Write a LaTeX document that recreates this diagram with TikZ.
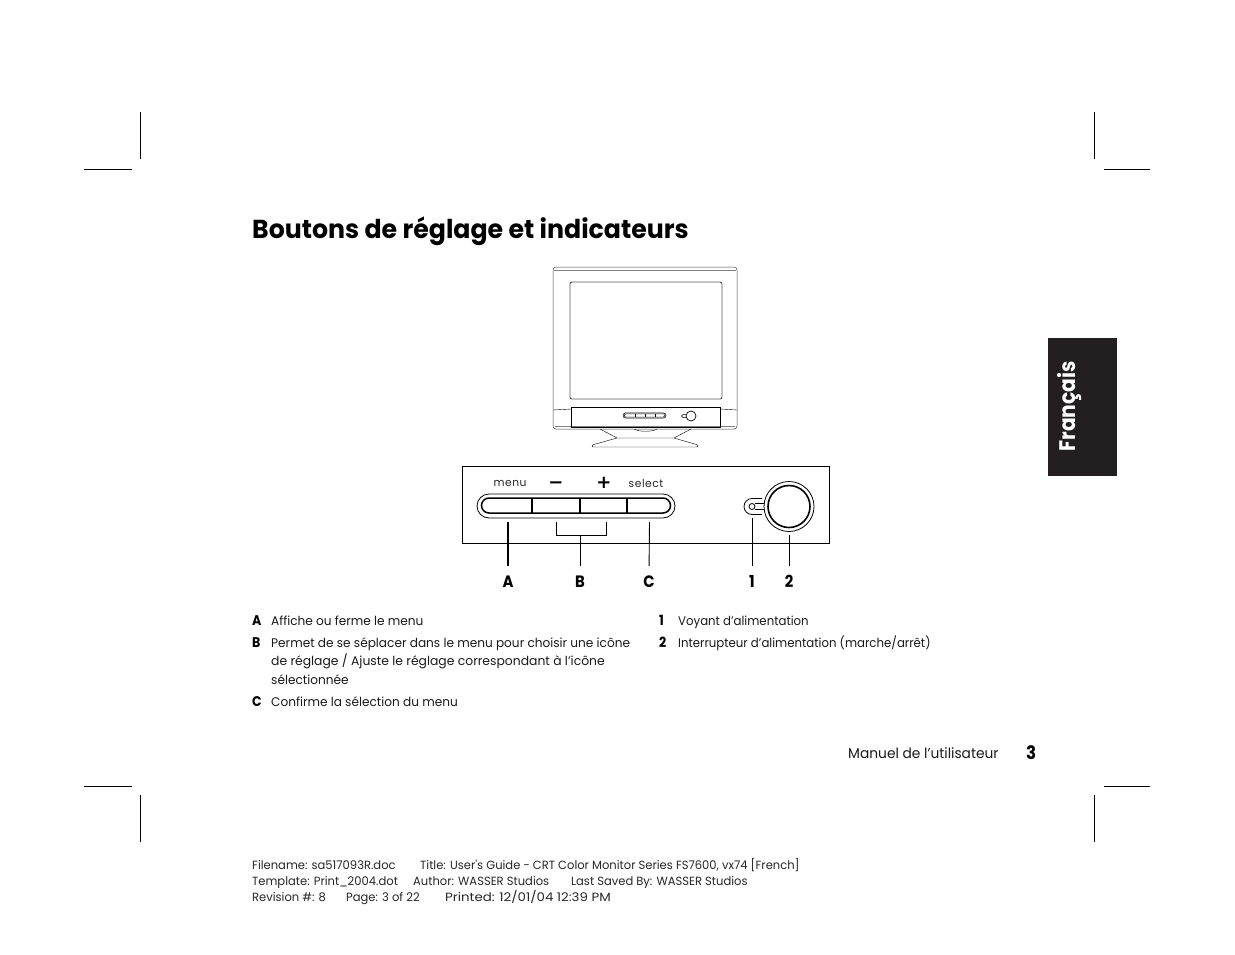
\documentclass[tikz,border=0pt]{standalone}
\usepackage{fontspec}
\setmainfont{Poppins}
\newfontfamily\bodyfont[FakeStretch=0.97]{Poppins}
\newfontfamily\narrowfont[FakeStretch=0.94]{Poppins}
\newfontfamily\widefont[FakeStretch=0.99]{Poppins}
\newfontfamily\printedfont[FakeStretch=1.12]{Poppins}
\newfontfamily\boldfont[FakeStretch=0.9]{Poppins Bold}
\newfontfamily\titlefont[FakeStretch=0.97]{Poppins Bold}
\newfontfamily\panelfont[FakeStretch=0.97,LetterSpace=5]{Poppins}
\newfontfamily\symbfont{DejaVu Sans}
\usetikzlibrary{positioning}
\definecolor{tabblack}{HTML}{231F20}
\tikzset{
  body/.style={anchor=base west,inner sep=0pt,font=\bodyfont\fontsize{12.5}{14}\selectfont,text=black!90},
  letter/.style={anchor=base west,inner sep=0pt,font=\boldfont\fontsize{14}{16}\selectfont},
  callout/.style={anchor=base,inner sep=0pt,font=\boldfont\fontsize{16.5}{18}\selectfont},
  footer/.style={anchor=base west,inner sep=0pt,font=\bodyfont\fontsize{11.9}{14}\selectfont,text=black!85},
  panel/.style={anchor=base,inner sep=0pt,font=\panelfont\fontsize{11}{13}\selectfont,text=black!85},
  sign/.style={anchor=base,inner sep=0pt,font=\symbfont\bfseries\fontsize{18}{20}\selectfont},
  crop/.style={line width=.7pt},
  leader/.style={line width=.9pt,shorten >=9pt},
  barinner/.style={line width=1.5pt},
}
\tikzset{
  buttonbar/.pic={
   \draw[pic actions] (-87,-12) -- (87,-12) arc[start angle=90,end angle=-90,radius=12pt] -- (-87,12) arc[start angle=270,end angle=90,radius=12pt] -- cycle;
   \draw[pic actions,barinner] (-87,-8) -- (87,-8) arc[start angle=90,end angle=-90,radius=7.5pt] -- (-87,7) arc[start angle=270,end angle=90,radius=7.5pt] -- cycle;
   \foreach \xdiv in {-44,4,51}
     \draw[pic actions,barinner] (\xdiv,-8) -- (\xdiv,7);
  },
  powerbutton/.pic={
   % lamp with its collar, then the round switch
   \draw[pic actions] (-27,-8) -- (-37,-8) arc[start angle=90,end angle=270,radius=8pt] -- (-27,8);
   \draw[pic actions] (-37,0) circle[radius=3];
   \draw[pic actions] (-34,-3) -- (-21,-3) (-34,3) -- (-21,3);
   \draw[pic actions,fill=white] (0,0) circle[radius=25];
   \draw[pic actions,line width=1.6pt,fill=white] (0,0) circle[radius=21];
  },
}
\begin{document}
\begin{tikzpicture}[x=1pt,y=-1pt]
  \useasboundingbox (0,0) rectangle (1235,954);

  % crop marks
  \draw[crop] (140.5,112)--++(0,47) (84,169)--++(48,0);
  \draw[crop] (1094.5,112)--++(0,47) (1104,169)--++(46,0);
  \draw[crop] (140.5,795)--++(0,47) (84,786)--++(48,0);
  \draw[crop] (1094.5,795)--++(0,47) (1104,786)--++(46,0);

  \node[anchor=base west,inner sep=0pt,font=\titlefont\fontsize{26}{30}\selectfont] (title) at (252,238) {Boutons de réglage et indicateurs};

  % monitor
  \draw[line width=.5pt,black!75,rounded corners=3pt] (553,267) rectangle (737,429);
  \draw[line width=.3pt,black!50] (554,270)--(736,270);
  \draw[line width=.3pt,black!50,rounded corners=2pt] (555,426)--(735,426);
  \draw[line width=.9pt,black!65,rounded corners=2pt] (570,282) rectangle (722,399);
  \draw[line width=.7pt] (571,407) rectangle (720,427);
  \draw[line width=.4pt] (553,410)--(571,409) (720,409)--(737,410);
  \path (644.5,415.5) pic[line width=.5pt,scale=.217,barinner/.style={line width=.5pt}]{buttonbar};
  \draw[line width=.7pt] (691,416) circle[radius=5];
  \draw[line width=.5pt] (686,414.5)--(683,414.5)--(681.5,416)--(683,417.5)--(686,417.5);
  \draw[line width=.4pt] (600,429)--(617,438)--(674,438)--(691,429);
  \draw[line width=.4pt,rounded corners=1pt] (617,438)--(592,445)--(592,447)--(698,447)--(698,445)--(674,438);
  \draw[line width=.4pt] (634,429) .. controls (638,432) and (653,432) .. (657,429);

  % control panel
  \draw[line width=.7pt] (462.5,466.5) rectangle (829.5,543.5);
  \node[panel] (menulabel) at (510,486) {menu};
  \node[sign] (minuslabel) at (556,488) {−};
  \node[sign] (pluslabel) at (604,488) {+};
  \node[panel] (selectlabel) at (646,487) {select};
  \path (576,506) pic[line width=.8pt]{buttonbar};
  \path (789,506.5) pic[line width=.8pt]{powerbutton};

  \node[callout] (A) at (508,587) {A};
  \node[callout] (B) at (580,587) {B};
  \node[callout] (C) at (649,587) {C};
  \node[callout] (one) at (752,587) {1};
  \node[callout] (two) at (789,587) {2};

  \coordinate (Atop) at (508,522);
  \coordinate (Btop) at (580,535);
  \coordinate (Ctop) at (649.5,522);
  \coordinate (onetop) at (752,518);
  \coordinate (twotop) at (789,535);
  \draw[leader,line width=1.3pt] (Atop) -- (A.north);
  \draw[leader] (Btop) -- (B.north);
  \draw[leader] (Ctop) -- (C.north);
  \draw[leader] (onetop) -- (one.north);
  \draw[leader] (twotop) -- (two.north);
  \draw[line width=.9pt] (556,522)--(556,535)--(606,535)--(606,522);

  % key to the letters
  \node[letter] (keyA) at (252,625) {A};
  \node[body] (textA) at (271,625) {Affiche ou ferme le menu};
  \node[letter] (keyB) at (252,647) {B};
  \node[body] (textBa) at (271,647) {Permet de se séplacer dans le menu pour choisir une icône};
  \node[body,font=\widefont\fontsize{12.5}{14}\selectfont] (textBb) at (271,665.5) {de réglage / Ajuste le réglage correspondant à l’icône};
  \node[body] (textBc) at (271,684) {sélectionnée};
  \node[letter] (keyC) at (252,706) {C};
  \node[body] (textC) at (271,706) {Confirme la sélection du menu};
  \node[letter] (keyone) at (659,625) {1};
  \node[body,font=\narrowfont\fontsize{12.5}{14}\selectfont] (textone) at (678,625) {Voyant d’alimentation};
  \node[letter] (keytwo) at (659,647) {2};
  \node[body,font=\narrowfont\fontsize{12.5}{14}\selectfont] (texttwo) at (678,647) {Interrupteur d’alimentation (marche/arrêt)};

  \node[body,font=\bodyfont\fontsize{14.2}{15}\selectfont] (manual) at (848,758) {Manuel de l’utilisateur};
  \node[anchor=base west,inner sep=0pt,font=\boldfont\fontsize{18.5}{20}\selectfont] (pageno) at (1026,759) {3};

  % language tab
  \fill[tabblack] (1048,338) rectangle (1117,476);
  \node[rotate=90,inner sep=0pt,text=white,font=\boldfont\fontsize{22.5}{24}\selectfont] (tab) at (1070,406.5) {Français};

  % print footer
  \node[footer] (fa) at (252,869) {Filename: sa517093R.doc};
  \node[footer] (fb) at (420,869) {Title: User's Guide - CRT Color Monitor Series FS7600, vx74 [French]};
  \node[footer] (fc) at (252,885) {Template: Print\_2004.dot};
  \node[footer] (fd) at (413,885) {Author: WASSER Studios};
  \node[footer] (fe) at (571,885) {Last Saved By: WASSER Studios};
  \node[footer] (ff) at (252,901) {Revision \#: 8};
  \node[footer] (fg) at (346,901) {Page: 3 of 22};
  \node[footer,font=\printedfont\fontsize{11.9}{14}\selectfont] (fh) at (445,901) {Printed: 12/01/04 12:39 PM};
\end{tikzpicture}
\end{document}
